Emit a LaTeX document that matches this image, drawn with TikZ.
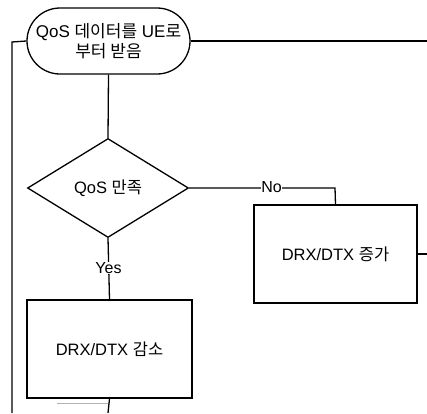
\documentclass[tikz,border=0pt]{standalone}
\usepackage{fontspec}
\setmainfont{Liberation Sans}
\newfontfamily\kr{Noto Sans CJK KR}
\usetikzlibrary{shapes.geometric,shapes.misc}
\begin{document}
\begin{tikzpicture}[x=1pt,y=-1pt,
  every node/.style={font=\fontsize{16.5}{20}\selectfont},
  ln/.style={line width=1.3pt,black},
  term/.style={draw,ln,rounded rectangle,minimum width=163pt,minimum height=66pt,inner sep=0pt,align=center,font=\fontsize{17}{20}\selectfont},
  decide/.style={draw,ln,diamond,aspect=1.63,minimum width=161pt,minimum height=99pt,inner sep=0pt},
  procbox/.style={draw,ln,rectangle,minimum height=98pt,inner sep=0pt},
  lbl/.style={fill=white,inner sep=0.5pt,font=\fontsize{16}{18}\selectfont}]
\useasboundingbox (0,0) rectangle (427,413);
\node[term] (start) at (108.5,41) {QoS {\kr 데이터를} UE{\kr 로}\\{\kr 부터 받음}};
\node[decide] (qos) at (108,188) {QoS {\kr 만족}};
\node[procbox,minimum width=163pt] (inc) at (335.5,254) {DRX/DTX {\kr 증가}};
\node[procbox,minimum width=165pt] (dec) at (109.5,349) {DRX/DTX {\kr 감소}};
\coordinate (lefttop) at (12,42);
\coordinate (leftbot) at (12,413);
\coordinate (rightend) at (427,41);
\coordinate (incright) at (427,254);
\coordinate (decbot) at (108,413);
\coordinate (corner) at (335,188);
\coordinate (g1) at (57,403);
\coordinate (g2) at (108,403);
\draw[ln] (start.south) -- (qos.north);
\draw[ln] (qos.east) -- (corner) -- (inc.north);
\node[lbl] at (271.5,187) {No};
\draw[ln] (qos.south) -- (dec.north);
\node[lbl] at (108.5,268) {Yes};
\draw[ln] (dec.south) -- (decbot);
\draw[ln] (start.west) -- (lefttop) -- (leftbot);
\draw[ln] (start.east) -- (rightend);
\draw[ln] (inc.east) -- (incright);
\draw[line width=0.8pt,gray!60] (g1) -- (g2);
\end{tikzpicture}
\end{document}
